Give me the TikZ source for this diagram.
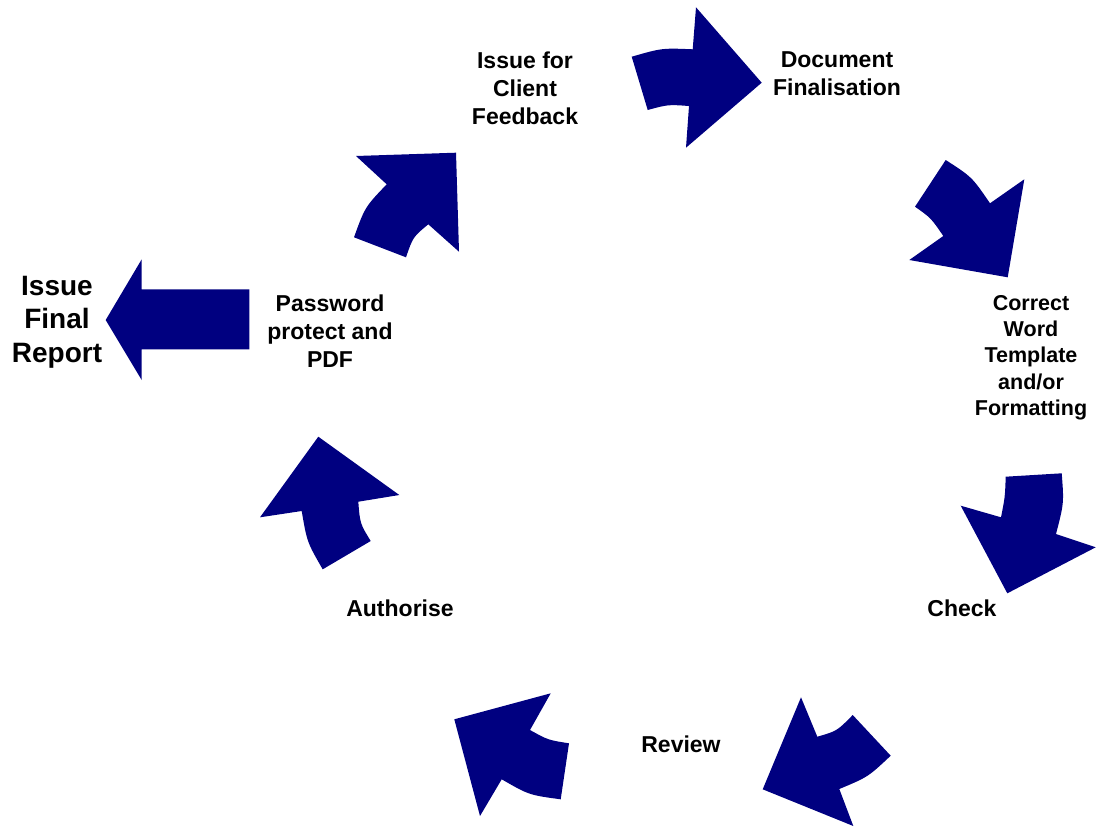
\documentclass[tikz,border=0pt]{standalone}
\usepackage{fontspec}
\setmainfont{Liberation Sans}
\definecolor{navyarrow}{HTML}{000080}
\begin{document}
\begin{tikzpicture}[x=1pt,y=-1pt,
  arrowshape/.style={fill=navyarrow,draw=none},
  lbl/.style={font=\fontsize{23}{28}\selectfont\bfseries,align=center,inner sep=0pt,text=black},
  lblsmall/.style={font=\fontsize{21.5}{26.3}\selectfont\bfseries,align=center,inner sep=0pt,text=black},
  lblbig/.style={font=\fontsize{28}{33.5}\selectfont\bfseries,align=center,inner sep=0pt,text=black}]
\useasboundingbox (0,0) rectangle (1102,827);
% arrow 1 (top, pointing right)
\fill[arrowshape] (631.7,56.7) .. controls (662,48) .. (692.7,49.3) -- (696,7.3) -- (761.7,82.7) -- (686,147.7) -- (689,106) .. controls (668,104.5) .. (647.7,110) -- cycle;
% arrow 2
\fill[arrowshape] (945.7,160) .. controls (972,177) .. (990,203.3) -- (1024.3,179.3) -- (1007.7,277.3) -- (909.3,260) -- (943.3,236) .. controls (931,218) .. (915,206.7) -- cycle;
% arrow 3
\fill[arrowshape] (1005.7,476.7) -- (1061.7,473.3) .. controls (1064,503) .. (1056,534) -- (1095.7,547.3) -- (1007.3,593.3) -- (960.7,505.7) -- (1001,517.3) .. controls (1005,497) .. (1005.7,476.7) -- cycle;
% arrow 4
\fill[arrowshape] (801,697.3) -- (817.3,736.7) .. controls (837,731) .. (852.7,715) -- (890.7,755.7) .. controls (868,777) .. (839.3,789) -- (853.3,826) -- (762.7,789.3) -- cycle;
% arrow 5
\fill[arrowshape] (550.7,693.3) -- (530,730) .. controls (548,740) .. (569,743.3) -- (560.7,799.3) .. controls (529,795) .. (501.7,779.3) -- (480,816) -- (454.3,719.3) -- cycle;
% arrow 6
\fill[arrowshape] (318.3,436.7) -- (399.3,495) -- (358.3,501.7) .. controls (360,523.5) .. (370.7,541) -- (322.7,569.3) .. controls (307,542) .. (301.7,511) -- (260,517.3) -- cycle;
% arrow 7
\fill[arrowshape] (356,156) -- (456,152.7) -- (459,251.7) -- (428.3,224.3) .. controls (413,237) .. (406,257.3) -- (354,237.3) .. controls (365,207) .. (386.7,184.3) -- cycle;
% arrow 8 (straight, pointing left)
\fill[arrowshape] (105.7,320) -- (141.7,259.3) -- (141.7,289.3) -- (249.3,289.3) -- (249.3,349.3) -- (141.7,349.3) -- (141.7,380) -- cycle;
% labels
\node[lbl] (feedback) at (525,88) {Issue for\\Client\\Feedback};
\node[lbl] (final) at (837,74) {Document\\Finalisation};
\node[lblsmall] (template) at (1031,357.5) {Correct\\Word\\Template\\and/or\\Formatting};
\node[lbl] (check) at (962,608) {Check};
\node[lbl] (review) at (681,744) {Review};
\node[lbl] (authorise) at (400,608) {Authorise};
\node[lbl] (pdf) at (330,331) {Password\\protect and\\PDF};
\node[lblbig] (report) at (57,322) {Issue\\Final\\Report};
\end{tikzpicture}
\end{document}
